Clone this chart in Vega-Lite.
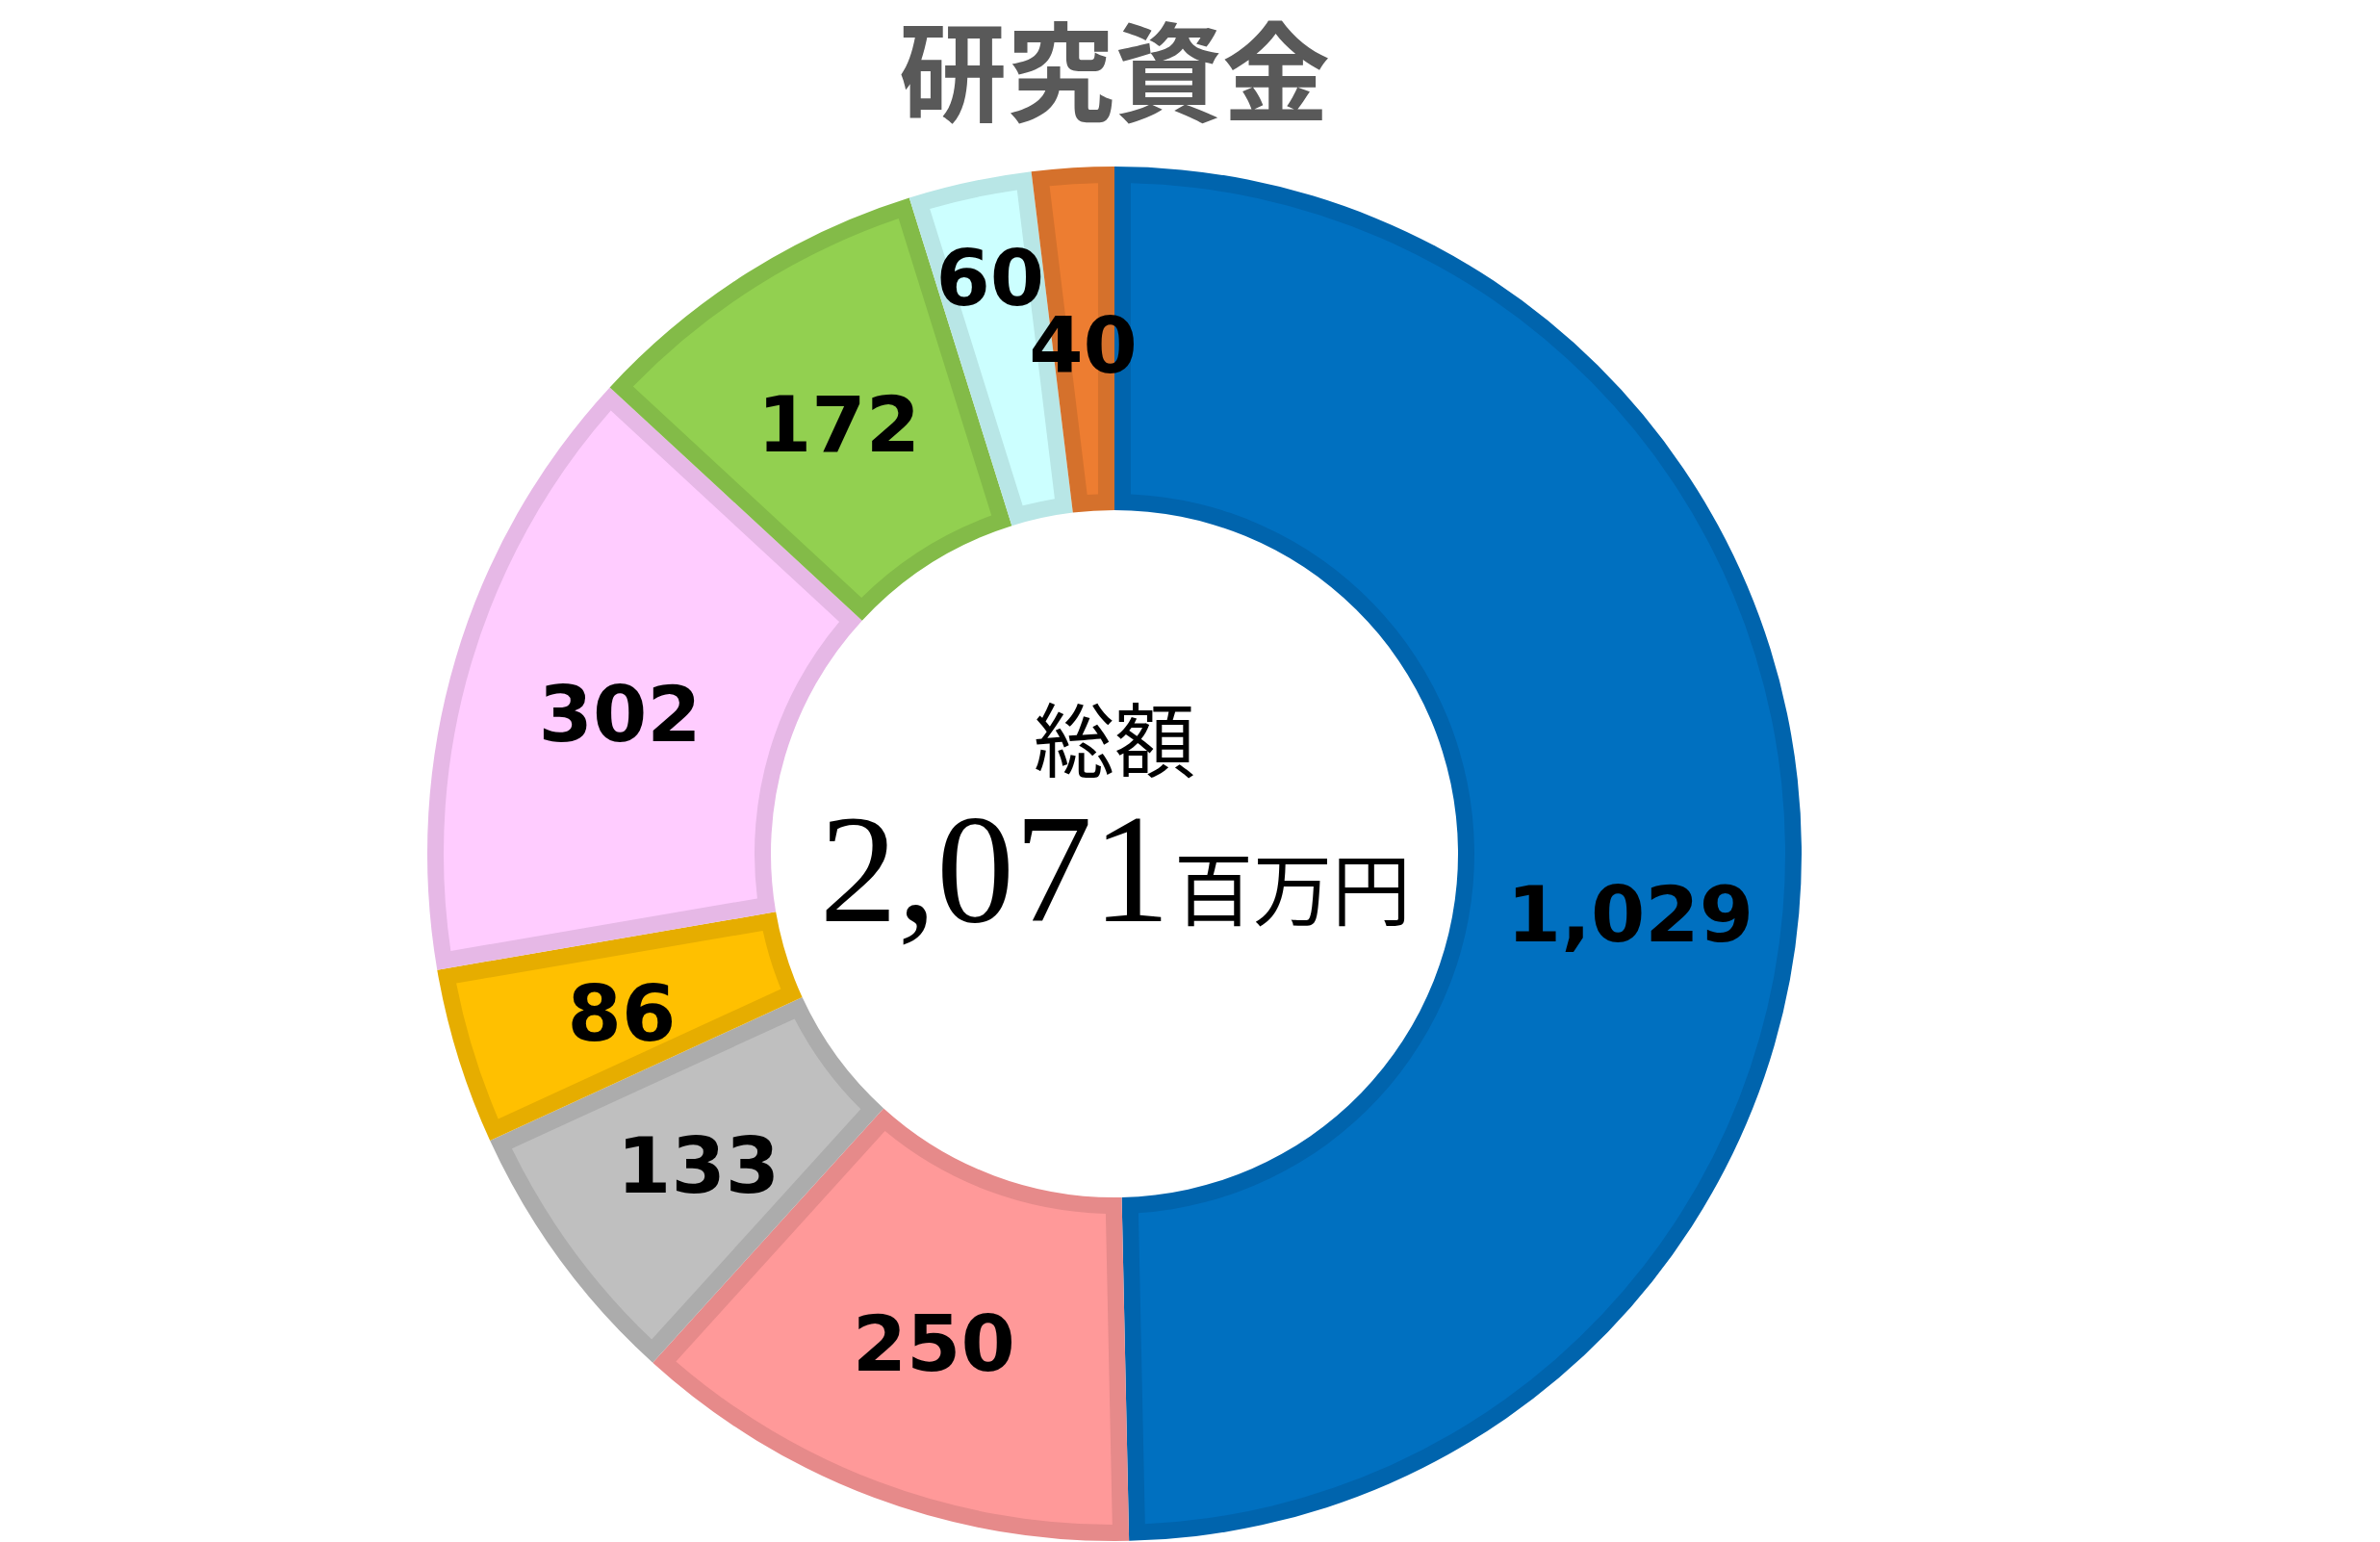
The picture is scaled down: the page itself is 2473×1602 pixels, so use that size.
{
  "$schema": "https://vega.github.io/schema/vega-lite/v6.json",
  "autosize": "none",
  "width": 2316,
  "height": 1430,
  "padding": {"left": 0, "top": 172, "right": 157, "bottom": 0},
  "background": "white",
  "datasets": {
    "segments": [
      {"order": 1, "item": "A", "value": 1029},
      {"order": 2, "item": "B", "value": 250},
      {"order": 3, "item": "C", "value": 133},
      {"order": 4, "item": "D", "value": 86},
      {"order": 5, "item": "E", "value": 302},
      {"order": 6, "item": "F", "value": 172},
      {"order": 7, "item": "G", "value": 60},
      {"order": 8, "item": "H", "value": 40}
    ],
    "center": [
      {"label": "総額", "total": 2071, "unit": "百万円"}
    ]
  },
  "title": {
    "text": "研究資金",
    "font": "Noto Sans CJK JP",
    "fontSize": 112,
    "fontWeight": "bold",
    "color": "#595959",
    "anchor": "middle",
    "baseline": "bottom",
    "offset": -82
  },
  "config": {
    "view": {"stroke": null}
  },
  "resolve": {"scale": {"fill": "independent"}},
  "layer": [
    {
      "data": {"name": "segments"},
      "mark": {"type": "arc", "innerRadius": 357, "outerRadius": 714},
      "encoding": {
        "theta": {"field": "value", "type": "quantitative", "stack": true},
        "order": {"field": "order", "type": "quantitative"},
        "fill": {
          "field": "item",
          "type": "nominal",
          "legend": null,
          "scale": {
            "domain": ["A", "B", "C", "D", "E", "F", "G", "H"],
            "range": ["#0064AD", "#E68A8A", "#ACACAC", "#E6AD00", "#E6B8E6", "#83BB48", "#B8E6E6", "#D5712C"]
          }
        }
      }
    },
    {
      "data": {"name": "segments"},
      "mark": {"type": "arc", "innerRadius": 374, "outerRadius": 697, "padAngle": 0.043},
      "encoding": {
        "theta": {"field": "value", "type": "quantitative", "stack": true},
        "order": {"field": "order", "type": "quantitative"},
        "fill": {
          "field": "item",
          "type": "nominal",
          "legend": null,
          "scale": {
            "domain": ["A", "B", "C", "D", "E", "F", "G", "H"],
            "range": ["#0070C0", "#FF9999", "#BFBFBF", "#FFC000", "#FFCCFF", "#92D050", "#CCFFFF", "#ED7D31"]
          }
        }
      }
    },
    {
      "data": {"name": "segments"},
      "mark": {"type": "text", "radius": 536, "dy": 11, "font": "DejaVu Sans", "fontWeight": "bold", "fontSize": 81, "color": "black"},
      "encoding": {
        "theta": {"field": "value", "type": "quantitative", "stack": true},
        "order": {"field": "order", "type": "quantitative"},
        "text": {"field": "value", "type": "quantitative", "format": ","},
        "opacity": {"condition": {"test": "datum.value == 60 || datum.value == 1029", "value": 0}, "value": 1}
      }
    },
    {
      "data": {"name": "segments"},
      "mark": {"type": "text", "radius": 613, "dy": 5, "font": "DejaVu Sans", "fontWeight": "bold", "fontSize": 81, "color": "black"},
      "encoding": {
        "theta": {"field": "value", "type": "quantitative", "stack": true},
        "order": {"field": "order", "type": "quantitative"},
        "text": {"field": "value", "type": "quantitative", "format": ","},
        "opacity": {"condition": {"test": "datum.value == 60", "value": 1}, "value": 0}
      }
    },
    {
      "data": {"name": "segments"},
      "mark": {"type": "text", "radius": 536, "dy": 73, "font": "DejaVu Sans", "fontWeight": "bold", "fontSize": 81, "color": "black"},
      "encoding": {
        "theta": {"field": "value", "type": "quantitative", "stack": true},
        "order": {"field": "order", "type": "quantitative"},
        "text": {"field": "value", "type": "quantitative", "format": ","},
        "opacity": {"condition": {"test": "datum.value == 1029", "value": 1}, "value": 0}
      }
    },
    {
      "data": {"name": "center"},
      "mark": {"type": "text", "font": "Noto Sans CJK JP", "fontSize": 84, "baseline": "alphabetic", "align": "center", "dy": -86, "color": "black"},
      "encoding": {
        "text": {"field": "label", "type": "nominal"}
      }
    },
    {
      "data": {"name": "center"},
      "mark": {"type": "text", "font": "Liberation Serif", "fontSize": 162, "baseline": "alphabetic", "align": "right", "dx": 58, "dy": 70, "color": "black"},
      "encoding": {
        "text": {"field": "total", "type": "quantitative", "format": ","}
      }
    },
    {
      "data": {"name": "center"},
      "mark": {"type": "text", "font": "Noto Sans CJK JP", "fontSize": 82, "baseline": "alphabetic", "align": "left", "dx": 62, "dy": 68, "color": "black"},
      "encoding": {
        "text": {"field": "unit", "type": "nominal"}
      }
    }
  ]
}
